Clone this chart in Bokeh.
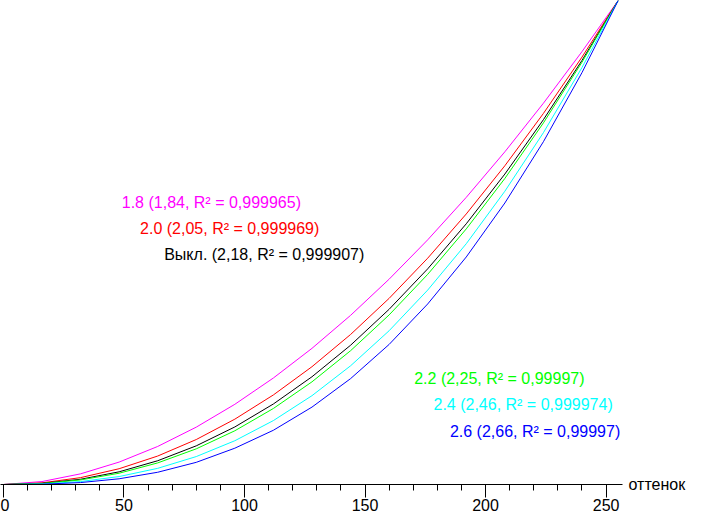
from bokeh.plotting import figure
from bokeh.models import Range1d, FixedTicker, Label, LinearAxis
from bokeh.embed import file_html
from bokeh.resources import INLINE

# shade (оттенок) sample points
shade = [0, 16, 32, 48, 64, 80, 96, 112, 128, 144, 160, 176, 192, 208, 224, 240, 255]

# relative brightness (0..1)
g18 = [0, 0.0061, 0.0220, 0.0463, 0.0786, 0.1185, 0.1657, 0.2201, 0.2813, 0.3494, 0.4242, 0.5055, 0.5933, 0.6874, 0.7878, 0.8944, 1.0]
g20 = [0, 0.0034, 0.0142, 0.0326, 0.0588, 0.0929, 0.1350, 0.1851, 0.2434, 0.3099, 0.3846, 0.4676, 0.5590, 0.6586, 0.7667, 0.8831, 1.0]
goff = [0, 0.0024, 0.0108, 0.0262, 0.0491, 0.0799, 0.1189, 0.1664, 0.2226, 0.2877, 0.3620, 0.4456, 0.5387, 0.6414, 0.7538, 0.8762, 1.0]
g22 = [0, 0.0020, 0.0094, 0.0233, 0.0446, 0.0737, 0.1110, 0.1571, 0.2121, 0.2764, 0.3504, 0.4342, 0.5281, 0.6323, 0.7471, 0.8725, 1.0]
g24 = [0, 0.0011, 0.0061, 0.0164, 0.0334, 0.0577, 0.0904, 0.1321, 0.1835, 0.2452, 0.3177, 0.4017, 0.4975, 0.6059, 0.7270, 0.8615, 1.0]
g26 = [0, 0.0006, 0.0040, 0.0118, 0.0253, 0.0458, 0.0750, 0.1121, 0.1599, 0.2187, 0.2894, 0.3730, 0.4701, 0.5816, 0.7083, 0.8510, 1.0]

labels = [
    "1.8 (1,84, R\u00b2 = 0,999965)",
    "2.0 (2,05, R\u00b2 = 0,999969)",
    "Выкл. (2,18, R\u00b2 = 0,999907)",
    "2.2 (2,25, R\u00b2 = 0,99997)",
    "2.4 (2,46, R\u00b2 = 0,999974)",
    "2.6 (2,66, R\u00b2 = 0,99997)",
]
axis_title = "оттенок"
tick_values = [0, 50, 100, 150, 200, 250]
minor_values = list(range(0, 256, 10))

series = [g18, g20, goff, g22, g24, g26]
colors = ["#ff00ff", "#ff0000", "#000000", "#00ff00", "#00ffff", "#0000ff"]
# label anchor positions (left edge, vertical middle) in data units
label_x = [49.1, 56.7, 66.7, 170.4, 178.4, 185.2]
label_y = [0.582, 0.529, 0.475, 0.219, 0.166, 0.110]

FONT = "Liberation Sans"

p = figure(width=688, height=513, output_backend="svg", toolbar_location=None,
           x_range=Range1d(-1.2, 256.8), y_range=Range1d(0, 1.0),
           y_axis_location=None,
           min_border_left=0, min_border_top=0, min_border_right=0, min_border_bottom=0)
p.outline_line_color = None
p.xgrid.visible = False
p.ygrid.visible = False
p.background_fill_color = "white"
p.border_fill_color = "white"

ax = p.xaxis[0]
ax.ticker = FixedTicker(ticks=tick_values, minor_ticks=minor_values)
ax.axis_line_color = "black"
ax.major_tick_line_color = "black"
ax.minor_tick_line_color = "black"
ax.major_tick_in = 0
ax.major_tick_out = 13
ax.minor_tick_in = 0
ax.minor_tick_out = 6
ax.major_label_standoff = 1
ax.major_label_text_font = FONT
ax.major_label_text_font_size = "16px"
ax.major_label_text_color = "black"

# axis title at the right end of the x axis, drawn as a horizontal label of a bare right axis
rax = LinearAxis(ticker=FixedTicker(ticks=[0]), major_label_overrides={0: axis_title})
rax.axis_line_color = None
rax.major_tick_line_color = None
rax.minor_tick_line_color = None
rax.major_tick_in = 0
rax.major_tick_out = 0
rax.minor_tick_in = 0
rax.minor_tick_out = 0
rax.major_label_standoff = 6
rax.major_label_text_font = FONT
rax.major_label_text_font_size = "16px"
rax.major_label_text_color = "black"
p.add_layout(rax, "right")

for i in range(len(series)):
    p.line(shade, series[i], line_color=colors[i], line_width=1)

for t, c, lx, ly in zip(labels, colors, label_x, label_y):
    p.add_layout(Label(x=lx, y=ly, text=t, text_color=c, text_font=FONT,
                       text_font_size="16px", text_baseline="middle", text_align="left"))

open("out.html", "w").write(file_html(p, INLINE))
